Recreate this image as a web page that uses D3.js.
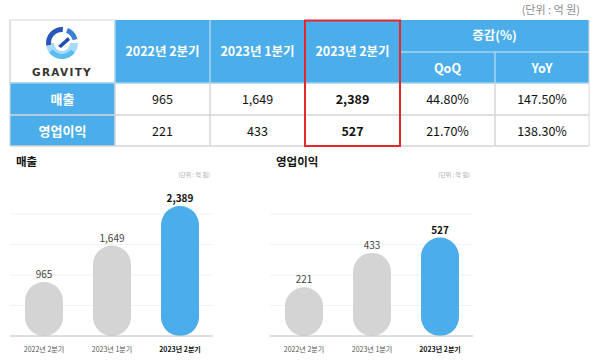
<!DOCTYPE html>
<html>
<head>
<meta charset="utf-8">
<script src="https://cdn.jsdelivr.net/npm/d3@7"></script>
<style>
  body { margin: 0; background: #fff; }
  svg { font-family: "Noto Sans CJK KR", "Noto Sans", sans-serif; }
</style>
</head>
<body>
<svg width="600" height="364"></svg>
<script>
// data
var periods = ["2022년 2분기", "2023년 1분기", "2023년 2분기"];
var rowNames = ["매출", "영업이익"];
var sales = [965, 1649, 2389];
var opProfit = [221, 433, 527];
var qoq = ["44.80%", "21.70%"];
var yoy = ["147.50%", "138.30%"];

var blue = "#4baeea";
var grey = "#d4d4d4";
var svg = d3.select("svg");

// ---- table ----
var colX = [10, 115, 210, 305, 400, 495, 589];
var rowY = [20, 52, 83, 115, 146];
var t = svg.append("g");

svg.append("text").attr("x", 580).attr("y", 14).attr("text-anchor", "end")
  .attr("font-size", 11).attr("fill", "#8c8c8c").text("(단위 : 억 원)");

// logo cell
t.append("rect").attr("x", colX[0]).attr("y", rowY[0]).attr("width", colX[1] - colX[0]).attr("height", rowY[2] - rowY[0])
  .attr("fill", "#fff").attr("stroke", "#d6d6d6");
// header cells
t.append("rect").attr("x", colX[1]).attr("y", rowY[0]).attr("width", colX[6] - colX[1]).attr("height", rowY[2] - rowY[0])
  .attr("fill", blue);
// row label cells
t.append("rect").attr("x", colX[0]).attr("y", rowY[2]).attr("width", colX[1] - colX[0]).attr("height", rowY[4] - rowY[2])
  .attr("fill", blue);

// grid lines
var lineCol = "#d6d6d6";
[2, 3, 4].forEach(function (i) {
  t.append("line").attr("x1", colX[0]).attr("x2", colX[6]).attr("y1", rowY[i]).attr("y2", rowY[i])
    .attr("stroke", i == 2 ? "#9fd0f1" : lineCol).attr("stroke-width", 1.5);
});
t.append("line").attr("x1", colX[4]).attr("x2", colX[6]).attr("y1", rowY[1]).attr("y2", rowY[1])
  .attr("stroke", "#a6d4f2").attr("stroke-width", 1.5);
[1, 2, 3, 4, 5].forEach(function (i) {
  var y1 = (i == 5) ? rowY[1] : rowY[0];
  t.append("line").attr("x1", colX[i]).attr("x2", colX[i]).attr("y1", y1).attr("y2", rowY[2])
    .attr("stroke", "#a6d4f2").attr("stroke-width", 1.5);
  t.append("line").attr("x1", colX[i]).attr("x2", colX[i]).attr("y1", rowY[2]).attr("y2", rowY[4])
    .attr("stroke", lineCol).attr("stroke-width", 1.5);
});
t.append("line").attr("x1", colX[6]).attr("x2", colX[6]).attr("y1", rowY[0]).attr("y2", rowY[4]).attr("stroke", lineCol);
t.append("line").attr("x1", colX[0]).attr("x2", colX[0]).attr("y1", rowY[0]).attr("y2", rowY[4]).attr("stroke", lineCol);

// header text
periods.forEach(function (p, i) {
  t.append("text").attr("x", (colX[i + 1] + colX[i + 2]) / 2).attr("y", (rowY[0] + rowY[2]) / 2 + 4)
    .attr("text-anchor", "middle").attr("font-size", 12.5).attr("font-weight", "bold").attr("fill", "#fff").text(p);
});
t.append("text").attr("x", (colX[4] + colX[6]) / 2).attr("y", (rowY[0] + rowY[1]) / 2 + 4)
  .attr("text-anchor", "middle").attr("font-size", 12.5).attr("font-weight", "bold").attr("fill", "#fff").text("증감(%)");
["QoQ", "YoY"].forEach(function (s, i) {
  t.append("text").attr("x", (colX[4 + i] + colX[5 + i]) / 2).attr("y", (rowY[1] + rowY[2]) / 2 + 5)
    .attr("text-anchor", "middle").attr("font-size", 12.5).attr("font-weight", "bold").attr("fill", "#fff").text(s);
});

// body
var rows = [sales, opProfit];
rows.forEach(function (vals, r) {
  var cy = (rowY[2 + r] + rowY[3 + r]) / 2 + 5;
  t.append("text").attr("x", (colX[0] + colX[1]) / 2).attr("y", cy).attr("text-anchor", "middle")
    .attr("font-size", 13).attr("font-weight", "bold").attr("fill", "#fff").text(rowNames[r]);
  vals.forEach(function (v, i) {
    t.append("text").attr("x", (colX[i + 1] + colX[i + 2]) / 2).attr("y", cy).attr("text-anchor", "middle")
      .attr("font-size", 12.5).attr("font-weight", i == 2 ? "bold" : "normal").attr("fill", "#111")
      .text(d3.format(",")(v));
  });
  t.append("text").attr("x", (colX[4] + colX[5]) / 2).attr("y", cy).attr("text-anchor", "middle")
    .attr("font-size", 12.5).attr("fill", "#111").text(qoq[r]);
  t.append("text").attr("x", (colX[5] + colX[6]) / 2).attr("y", cy).attr("text-anchor", "middle")
    .attr("font-size", 12.5).attr("fill", "#111").text(yoy[r]);
});

// red highlight box
t.append("rect").attr("x", colX[3]).attr("y", rowY[0] + 0.5).attr("width", colX[4] - colX[3]).attr("height", rowY[4] - rowY[0] - 0.5)
  .attr("fill", "none").attr("stroke", "#e5262a").attr("stroke-width", 2);

// logo
var logo = svg.append("g").attr("transform", "translate(62,43)");
var arc = d3.arc();
logo.append("path").attr("d", arc({ innerRadius: 8, outerRadius: 16, startAngle: Math.PI * 0.5, endAngle: Math.PI * 1.5 }))
  .attr("fill", "#a8dbf7");
logo.append("path").attr("d", arc({ innerRadius: 11, outerRadius: 16, startAngle: Math.PI * 0.7, endAngle: Math.PI * 1.3 }))
  .attr("fill", "#5bbcf0");
logo.append("path").attr("d", arc({ innerRadius: 11, outerRadius: 16, startAngle: -Math.PI * 0.55, endAngle: Math.PI * 0.02 }))
  .attr("fill", "#2a55b8");
logo.append("path").attr("d", arc({ innerRadius: 11, outerRadius: 16, startAngle: Math.PI * 0.12, endAngle: Math.PI * 0.42 }))
  .attr("fill", "#3c7fd8");
logo.append("path").attr("d", "M-4,3 L6,-6 L8,-3 L-1,5 Z").attr("fill", "#1f4fb0");
svg.append("text").attr("x", 62).attr("y", 76).attr("text-anchor", "middle").attr("font-family", "DejaVu Sans")
  .attr("font-size", 10.5).attr("font-weight", "bold").attr("letter-spacing", 1.3).attr("fill", "#333").text("GRAVITY");

// ---- bar charts ----
function pillChart(opts) {
  var g = svg.append("g");
  var base = 336;
  var x = d3.scalePoint().domain(periods).range([opts.x0 + 34, opts.x0 + 170]);
  var y = d3.scaleLinear().domain(opts.domain).range([base, 214]);
  var gridY = d3.scaleLinear().domain([0, 4]).range([base, 214]);

  g.append("text").attr("x", opts.x0 + 6).attr("y", 166).attr("font-size", 11.5).attr("font-weight", "bold")
    .attr("fill", "#111").text(opts.title);
  g.append("text").attr("x", opts.x0 + 200).attr("y", 177).attr("text-anchor", "end")
    .attr("font-size", 6).attr("fill", "#aaa").text("(단위 : 억 원)");

  g.selectAll(".grid").data([1, 2, 3, 4]).enter().append("line")
    .attr("x1", opts.x0).attr("x2", opts.x0 + 203)
    .attr("y1", function (d) { return gridY(d); }).attr("y2", function (d) { return gridY(d); })
    .attr("stroke", "#f1f1f1");

  var bw = 38;
  g.selectAll(".bar").data(opts.values).enter().append("rect")
    .attr("x", function (d, i) { return x(periods[i]) - bw / 2; })
    .attr("y", function (d) { return y(d); })
    .attr("width", bw)
    .attr("height", function (d) { return base - y(d); })
    .attr("rx", bw / 2)
    .attr("fill", function (d, i) { return i == 2 ? blue : grey; });

  g.append("line").attr("x1", opts.x0).attr("x2", opts.x0 + 203).attr("y1", base).attr("y2", base)
    .attr("stroke", "#bdbdbd");

  g.selectAll(".val").data(opts.values).enter().append("text")
    .attr("x", function (d, i) { return x(periods[i]); })
    .attr("y", function (d) { return y(d) - 4; })
    .attr("text-anchor", "middle").attr("font-size", 10)
    .attr("font-weight", function (d, i) { return i == 2 ? "bold" : "normal"; })
    .attr("fill", function (d, i) { return i == 2 ? "#111" : "#444"; })
    .text(d3.format(","));

  g.selectAll(".lab").data(periods).enter().append("text")
    .attr("x", function (d) { return x(d); }).attr("y", 352)
    .attr("text-anchor", "middle").attr("font-size", 7)
    .attr("font-weight", function (d, i) { return i == 2 ? "bold" : "normal"; })
    .attr("fill", function (d, i) { return i == 2 ? "#111" : "#555"; })
    .text(function (d) { return d; });
}

pillChart({ x0: 10, title: "매출", values: sales, domain: [-47, 2240] });
pillChart({ x0: 270, title: "영업이익", values: opProfit, domain: [-78, 672] });
</script>
</body>
</html>
